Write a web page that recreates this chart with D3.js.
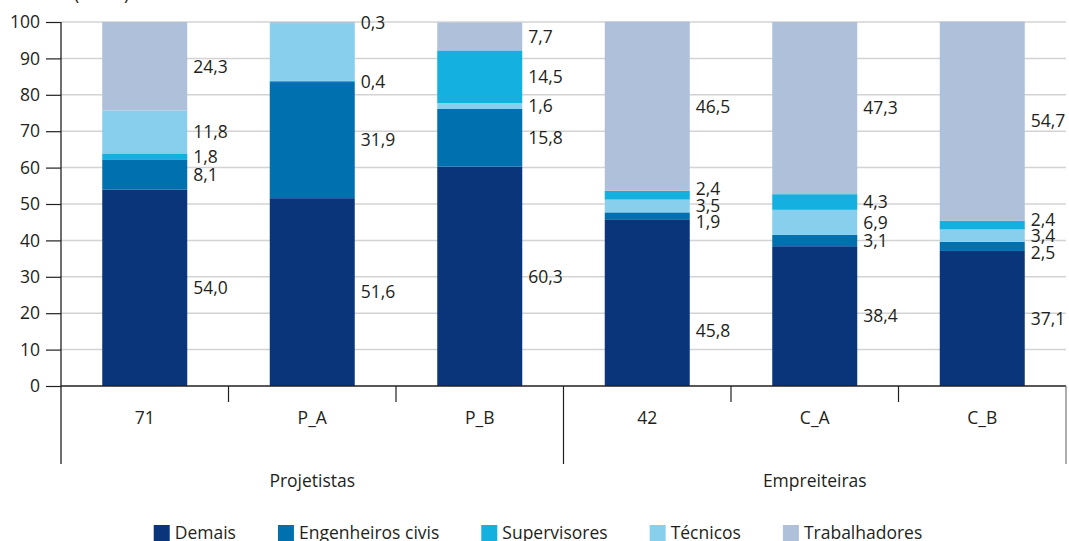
<!DOCTYPE html>
<html><head><meta charset="utf-8">
<script src="https://cdn.jsdelivr.net/npm/d3@7/dist/d3.min.js"></script>
<style>
html,body{margin:0;padding:0;background:#fff;}
text{font-family:"Open Sans","Noto Sans",sans-serif;fill:#231f20;}
</style></head>
<body><svg id="c" width="1069" height="541"></svg>
<script>
// ---- data ----
const categories = ["71", "P_A", "P_B", "42", "C_A", "C_B"];
const groupNames = ["Projetistas", "Empreiteiras"];
const groupOf = [0, 0, 0, 1, 1, 1];
const seriesNames = ["Demais", "Engenheiros civis", "Supervisores", "Técnicos", "Trabalhadores"];
const demais        = [54.0, 51.6, 60.3, 45.8, 38.4, 37.1];
const engenheiros   = [8.1, 31.9, 15.8, 1.9, 3.1, 2.5];
const supervisores  = [1.8, 0.4, 14.5, 2.4, 4.3, 2.4];
const tecnicos      = [11.8, 15.8, 1.6, 3.5, 6.9, 3.4];
const trabalhadores = [24.3, 0.3, 7.7, 46.5, 47.3, 54.7];
const yTicks = [0, 10, 20, 30, 40, 50, 60, 70, 80, 90, 100];
// stacking order of the series in each bar (as in the source chart)
const orderA = ["Demais", "Engenheiros civis", "Supervisores", "Técnicos", "Trabalhadores"];
const orderB = ["Demais", "Engenheiros civis", "Técnicos", "Supervisores", "Trabalhadores"];
const stackOrders = [orderA, orderA, orderB, orderB, orderB, orderB];
const hiddenLabels = [["P_A", "Técnicos"]];

const colors = {
  "Demais": "#0b357b",
  "Engenheiros civis": "#0071ae",
  "Supervisores": "#13b0e0",
  "Técnicos": "#88cfee",
  "Trabalhadores": "#afc0da"
};
const valuesBySeries = {
  "Demais": demais, "Engenheiros civis": engenheiros, "Supervisores": supervisores,
  "Técnicos": tecnicos, "Trabalhadores": trabalhadores
};
const rows = categories.map((c, i) => {
  const r = {cat: c};
  seriesNames.forEach(s => r[s] = valuesBySeries[s][i]);
  return r;
});

(function () {
// ---- layout ----
const svg = d3.select("#c");
const pL = 61, pR = 1066, pT = 22, pB = 386;
const FS = 17.5;
const x = d3.scaleBand().domain(categories).range([pL, pR]).paddingInner(0).paddingOuter(0);
const barW = 85;
const y = d3.scaleLinear().domain([0, 100]).range([pB, pT]);
const fmt = v => d3.format(".1f")(v).replace(".", ",");

// title (cut off at top)
svg.append("text").attr("x", 74).attr("y", 0).attr("font-size", FS).text("(Em %)");

// gridlines
svg.append("g").selectAll("line").data(yTicks.filter(t => t > 0)).join("line")
  .attr("x1", pL).attr("x2", pR)
  .attr("y1", d => y(d)).attr("y2", d => y(d))
  .attr("stroke", "#d3d3d3").attr("stroke-width", 1.5);

// y axis
const yAxis = svg.append("g").attr("transform", `translate(${pL},0)`)
  .call(d3.axisLeft(y).tickValues(yTicks).tickSize(15).tickPadding(6).tickFormat(d3.format("d")));
yAxis.select(".domain").remove();
yAxis.selectAll(".tick line").attr("stroke", "#231f20").attr("stroke-width", 1.2);
yAxis.selectAll(".tick text").attr("font-size", FS).attr("font-family", "Open Sans, Noto Sans, sans-serif").attr("fill", "#231f20");

// bars
categories.forEach((c, i) => {
  const st = d3.stack().keys(stackOrders[i])([rows[i]]);
  const bx = x(c) + (x.bandwidth() - barW) / 2;
  const g = svg.append("g");
  g.selectAll("rect").data(st).join("rect")
    .attr("x", bx).attr("width", barW)
    .attr("y", d => y(d[0][1])).attr("height", d => y(d[0][0]) - y(d[0][1]))
    .attr("fill", d => colors[d.key]);

  // labels with simple collision relaxation
  let labs = st.filter(d => !hiddenLabels.some(h => h[0] === c && h[1] === d.key))
    .map(d => ({key: d.key, v: d[0][1] - d[0][0], y: y((d[0][0] + d[0][1]) / 2)}));
  if (c === "42") labs.forEach(l => { if (l.key === "Demais") l.y += 28; });
  labs.sort((a, b) => a.y - b.y);
  const gap = 16.5;
  for (let it = 0; it < 200; it++) {
    for (let k = 0; k < labs.length - 1; k++) {
      const dd = labs[k + 1].y - labs[k].y;
      if (dd < gap) {
        const s = (gap - dd) / 2;
        labs[k].y -= s; labs[k + 1].y += s;
      }
    }
  }
  g.selectAll("text").data(labs).join("text")
    .attr("x", bx + barW + 6).attr("y", d => d.y).attr("dy", "0.36em")
    .attr("font-size", FS).text(d => fmt(d.v));
});

// x axis line
svg.append("line").attr("x1", pL).attr("x2", pR).attr("y1", pB).attr("y2", pB)
  .attr("stroke", "#231f20").attr("stroke-width", 1.3);
// y axis line (extended down through category area)
svg.append("line").attr("x1", pL).attr("x2", pL).attr("y1", pT).attr("y2", 464)
  .attr("stroke", "#231f20").attr("stroke-width", 1.3);

// category separators
const bounds = categories.map(c => x(c)).concat([pR]);
bounds.forEach((bx, i) => {
  if (i === 0) return;
  const isGroupEdge = i === categories.length || groupOf[i] !== groupOf[i - 1];
  svg.append("line").attr("x1", bx).attr("x2", bx).attr("y1", pB).attr("y2", isGroupEdge ? 464 : 402)
    .attr("stroke", i === categories.length ? "#777" : "#231f20").attr("stroke-width", 1.2);
});

// category labels
svg.append("g").selectAll("text").data(categories).join("text")
  .attr("x", d => x(d) + x.bandwidth() / 2).attr("y", 418).attr("dy", "0.36em")
  .attr("text-anchor", "middle").attr("font-size", FS).text(d => d);

// group labels
groupNames.forEach((gname, gi) => {
  const cats = categories.filter((c, i) => groupOf[i] === gi);
  const x0 = x(cats[0]), x1 = x(cats[cats.length - 1]) + x.bandwidth();
  svg.append("text").attr("x", (x0 + x1) / 2).attr("y", 481).attr("dy", "0.36em")
    .attr("text-anchor", "middle").attr("font-size", FS).text(gname);
});

// legend
const leg = svg.append("g");
let lx = 0;
seriesNames.forEach(s => {
  const it = leg.append("g").attr("transform", `translate(${lx},0)`);
  it.append("rect").attr("x", 0).attr("y", -8).attr("width", 16).attr("height", 16).attr("fill", colors[s]);
  const t = it.append("text").attr("x", 21).attr("y", 0).attr("dy", "0.36em").attr("font-size", FS).text(s);
  const w = 21 + t.node().getComputedTextLength();
  lx += w + 42;
});
const totalW = lx - 42;
leg.attr("transform", `translate(${538 - totalW / 2},533)`);
})();
</script>
</body></html>
